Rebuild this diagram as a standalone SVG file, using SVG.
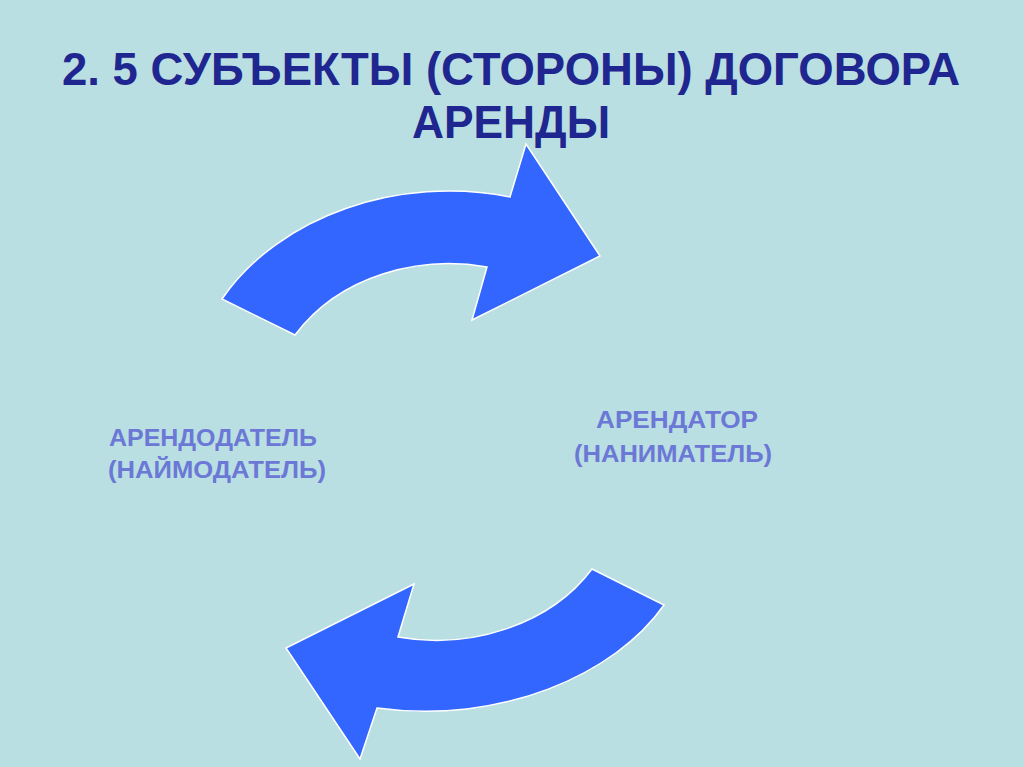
<svg xmlns="http://www.w3.org/2000/svg" width="1024" height="767" viewBox="0 0 1024 767">
<style>
.title{font-family:"Liberation Sans",Arial,sans-serif;font-weight:bold;font-size:47px;fill:#1F2690}
.lbl{font-family:"Liberation Sans",Arial,sans-serif;font-weight:bold;font-size:23px;fill:#6B78D6}
.arrow{fill:#3366FF;stroke:#FFFFFF;stroke-width:1.5;stroke-linejoin:miter}
</style>
<rect width="1024" height="767" fill="#B9DFE2"/>
<g id="title">
<text class="title" x="62" y="85" textLength="898" lengthAdjust="spacingAndGlyphs">2. 5 СУБЪЕКТЫ (СТОРОНЫ) ДОГОВОРА</text>
<text class="title" x="412" y="138" textLength="198" lengthAdjust="spacingAndGlyphs">АРЕНДЫ</text>
</g>
<g id="connectors">
<path class="arrow" d="M222,299 C280,215 400,175 510,197 L526,144 L600,256 L472,320 L487,267 C420,255 340,275 295,335 Z"/>
<path class="arrow" d="M592,569 L664,605 C615,675 500,725 377,708 L360,759 L286,648 L414,584 L398,637 C470,650 550,625 592,569 Z"/>
</g>
<g id="lessor">
<text class="lbl" x="109" y="446" textLength="208" lengthAdjust="spacingAndGlyphs">АРЕНДОДАТЕЛЬ</text>
<text class="lbl" x="108" y="478" textLength="218" lengthAdjust="spacingAndGlyphs">(НАЙМОДАТЕЛЬ)</text>
</g>
<g id="lessee">
<text class="lbl" x="596" y="428" textLength="162" lengthAdjust="spacingAndGlyphs">АРЕНДАТОР</text>
<text class="lbl" x="574" y="462" textLength="198" lengthAdjust="spacingAndGlyphs">(НАНИМАТЕЛЬ)</text>
</g>
</svg>
